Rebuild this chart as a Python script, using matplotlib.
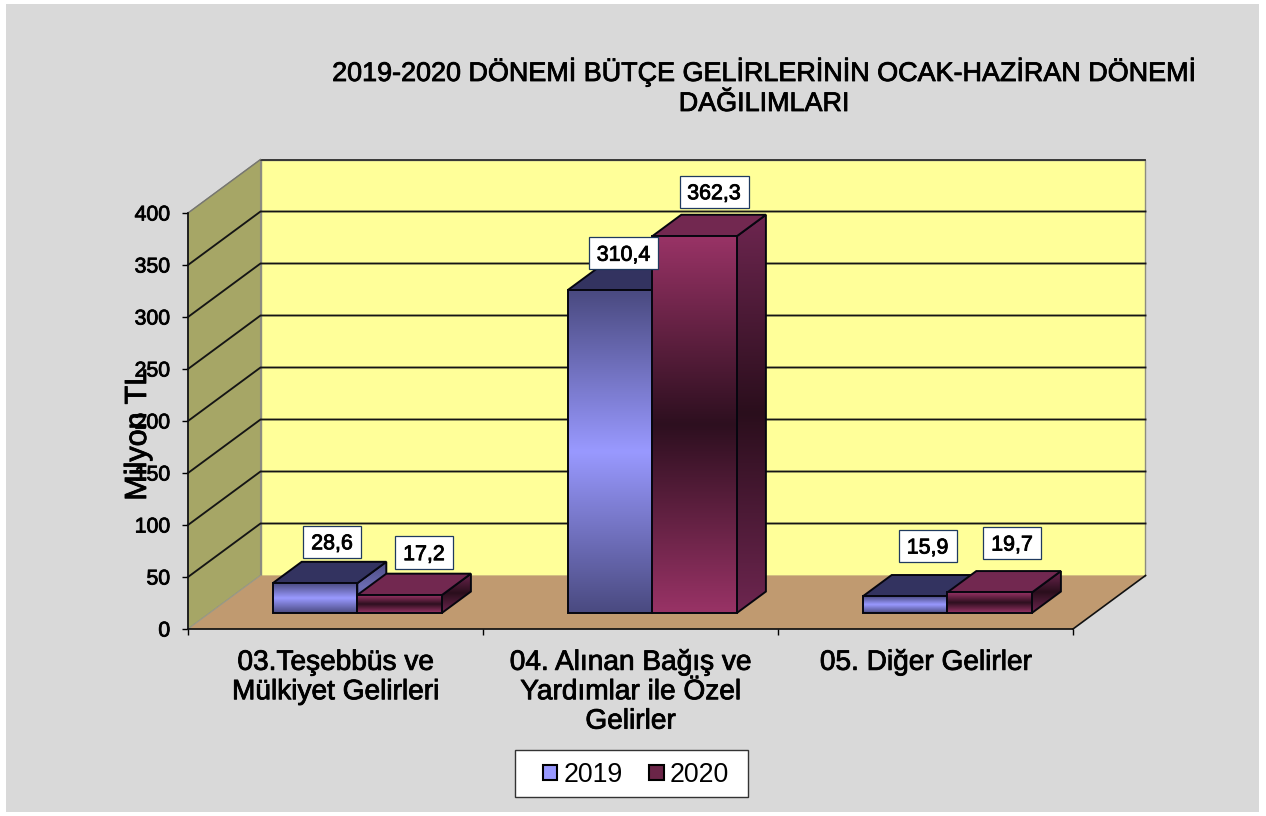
import numpy as np
import matplotlib
matplotlib.use("Agg")
import matplotlib.pyplot as plt
import matplotlib.patheffects as pe
from matplotlib.colors import LinearSegmentedColormap
from matplotlib.patches import Polygon, Rectangle, Patch

# ---- data ----
categories = ["03.Teşebbüs ve\nMülkiyet Gelirleri",
              "04. Alınan Bağış ve\nYardımlar ile Özel\nGelirler",
              "05. Diğer Gelirler"]
values_2019 = [28.6, 310.4, 15.9]
values_2020 = [17.2, 362.3, 19.7]
labels_2019 = ["28,6", "310,4", "15,9"]
labels_2020 = ["17,2", "362,3", "19,7"]
y_ticks = [0, 50, 100, 150, 200, 250, 300, 350, 400]
title = "2019-2020 DÖNEMİ BÜTÇE GELİRLERİNİN OCAK-HAZİRAN DÖNEMİ\nDAĞILIMLARI"

# ---- layout (pixels of the reference) ----
W, H = 1266, 816
PX_L, PX_R, PX_T, PX_B = 188, 1073, 213, 629
SX = (PX_R - PX_L) / 3
SY = (PX_B - PX_T) / 400
DX = 72.5 / SX
DY = 53.5 / SY
BAR_W = 84.6 / SX
BAR_X0 = 84.7 / SX
F0, F1 = 0.3, 0.7
# label offset from the bar's back-top centre, pixels (right, up)
off_2019 = [(-12, 20), (-15.5, 15.5), (-6.5, 29)]
off_2020 = [(-4.6, 21), (-9.6, 23), (-6.6, 28)]
box_w = {4: 58, 5: 69}
box_h = 32.5

plt.rcParams["font.family"] = ["Liberation Sans", "DejaVu Sans"]
bold = [pe.withStroke(linewidth=0.6, foreground="black")]

fig = plt.figure(figsize=(W / 100, H / 100), dpi=100, facecolor="white")
fig.patches.append(Rectangle((6 / W, 1 - 812 / H), 1253 / W, 808 / H, transform=fig.transFigure,
                             facecolor="#D9D9D9", edgecolor="none", figure=fig, zorder=-5))
fig.patches.append(Rectangle((515 / W, 1 - 797 / H), 233 / W, 47 / H, transform=fig.transFigure,
                             facecolor="white", edgecolor="#333333", linewidth=1.0, figure=fig, zorder=-4))
ax = fig.add_axes([PX_L / W, 1 - PX_B / H, (PX_R - PX_L) / W, (PX_B - PX_T) / H])
ax.patch.set_visible(False)


def poly(pts, fc, ec="none", lw=0.0, z=1.0):
    p = Polygon(pts, closed=True, facecolor=fc, edgecolor=ec, linewidth=lw,
                zorder=z, clip_on=False, joinstyle="miter")
    ax.add_patch(p)
    return p


def grad_poly(pts, stops, z):
    pts = np.array(pts)
    cmap = LinearSegmentedColormap.from_list("g", stops)
    arr = np.linspace(0, 1, 256).reshape(-1, 1)
    im = ax.imshow(arr, cmap=cmap, aspect="auto", origin="upper", zorder=z,
                   extent=(pts[:, 0].min(), pts[:, 0].max(), pts[:, 1].min(), pts[:, 1].max()),
                   interpolation="bilinear")
    im.set_clip_box(fig.bbox)
    im.set_clip_path(Polygon(pts, closed=True, transform=ax.transData))
    poly(pts, "none", ec="#06060f", lw=1.4, z=z + 0.01)


# walls and floor
ymax = y_ticks[-1]
poly([(0, 0), (DX, DY), (DX, ymax + DY), (0, ymax)], "#A6A666", ec="#8a8a80", lw=0.8, z=1)
poly([(DX, DY), (3 + DX, DY), (3 + DX, ymax + DY), (DX, ymax + DY)], "#FFFF99", ec="#8c8c80", lw=1.0, z=1)
poly([(0, 0), (3, 0), (3 + DX, DY), (DX, DY)], "#C09A70", ec="none", z=1.1)
ax.plot([3, 3 + DX], [0, DY], color="#111111", lw=1.2, zorder=1.2, clip_on=False)
ax.plot([0, DX], [0, DY], color="#9a9a88", lw=0.8, zorder=1.2, clip_on=False)

# gridlines
for v in y_ticks[1:-1]:
    ax.plot([0, DX, 3 + DX], [v, v + DY, v + DY], color="#151515", lw=1.35, zorder=1.3,
            clip_on=False, solid_joinstyle="miter")
ax.plot([DX, 3 + DX], [ymax + DY, ymax + DY], color="#333333", lw=1.35, zorder=1.3, clip_on=False)
ax.plot([0, DX], [ymax, ymax + DY], color="#777770", lw=1.0, zorder=1.3, clip_on=False)

front_2019 = ["#4A4A80", "#9999FF", "#4A4A80"]
side_2019 = ["#4A4A80", "#6C6CB4", "#4A4A80"]
top_2019 = "#333360"
front_2020 = ["#993366", "#2D0F1F", "#993366"]
side_2020 = ["#6E2650", "#2A0E1C", "#6E2650"]
top_2020 = "#722850"


def bar3d(x, h, front, side, top, z):
    x0, x1 = x, x + BAR_W
    y0 = F0 * DY
    y1 = y0 + h
    ddx = (F1 - F0) * DX
    ddy = (F1 - F0) * DY
    grad_poly([(x1, y0), (x1 + ddx, y0 + ddy), (x1 + ddx, y1 + ddy), (x1, y1)], side, z)
    poly([(x0, y1), (x1, y1), (x1 + ddx, y1 + ddy), (x0 + ddx, y1 + ddy)], top, ec="#06060f", lw=1.4, z=z + 0.1)
    grad_poly([(x0, y0), (x1, y0), (x1, y1), (x0, y1)], front, z + 0.2)
    return x0 + BAR_W / 2 + ddx, y1 + ddy


def data_label(cx, cy, text, off):
    c_x = cx + off[0] / SX
    c_y = cy + off[1] / SY
    w = box_w[len(text)] / SX
    h = box_h / SY
    ax.add_patch(Rectangle((c_x - w / 2, c_y - h / 2), w, h, facecolor="white", edgecolor="#1F3A5F",
                           linewidth=0.9, zorder=20, clip_on=False))
    ax.text(c_x, c_y, text, ha="center", va="center_baseline", fontsize=15.4, color="black",
            zorder=21, path_effects=bold, clip_on=False)


tops = []
z = 3.0
for i, (a, b) in enumerate(zip(values_2019, values_2020)):
    tops.append(("a", i, bar3d(i + BAR_X0, a, front_2019, side_2019, top_2019, z)))
    tops.append(("b", i, bar3d(i + BAR_X0 + BAR_W, b, front_2020, side_2020, top_2020, z + 1)))
    z += 2
for kind, i, (cx, cy) in tops:
    if kind == "a":
        data_label(cx, cy, labels_2019[i], off_2019[i])
    else:
        data_label(cx, cy, labels_2020[i], off_2020[i])

# axes
ax.set_xlim(0, 3)
ax.set_ylim(0, ymax)
for s in ("top", "right"):
    ax.spines[s].set_visible(False)
for s in ("left", "bottom"):
    ax.spines[s].set_linewidth(1.25)
    ax.spines[s].set_color("#111111")
    ax.spines[s].set_zorder(2)
ax.set_yticks(y_ticks)
ax.tick_params(axis="y", length=4.3, width=1.0, pad=8.5, labelsize=15.3)
ax.set_xticks([0, 1, 2, 3])
ax.set_xticklabels([])
ax.tick_params(axis="x", which="major", length=4.3, width=1.0)
ax.set_xticks([0.5, 1.5, 2.5], minor=True)
ax.set_xticklabels(categories, minor=True, fontsize=20.2, linespacing=1.17)
ax.tick_params(axis="x", which="minor", length=0, pad=15)
for t in ax.get_xticklabels(minor=True):
    t.set_x(t.get_position()[0])
for t in ax.get_yticklabels() + ax.get_xticklabels(minor=True):
    t.set_path_effects(bold)

ax.set_ylabel("Milyon TL", fontsize=22, color="black", path_effects=bold)
ax.yaxis.set_label_coords((153 - PX_L) / (PX_R - PX_L), (PX_B - 435) / (PX_B - PX_T))
ax.yaxis.label.set_zorder(30)

ax.set_title(title, fontsize=19.4, x=(764 - PX_L) / (PX_R - PX_L), y=(PX_B - 117) / (PX_B - PX_T),
             va="bottom", linespacing=1.2, pad=0, path_effects=bold)

# legend
handles = [Patch(facecolor="#9999FF", edgecolor="black", linewidth=1.5, label="2019"),
           Patch(facecolor="#6B2548", edgecolor="black", linewidth=1.5, label="2020")]
leg = ax.legend(handles=handles, ncols=2, loc="center", fontsize=19.3, frameon=False,
                bbox_to_anchor=(636 / W, 1 - 775 / H), bbox_transform=fig.transFigure,
                handlelength=0.53, handleheight=0.53, handletextpad=0.22, columnspacing=1.0,
                borderpad=0, borderaxespad=0)
leg.set_zorder(40)

fig.savefig("out.png", dpi=100, facecolor=fig.get_facecolor())
